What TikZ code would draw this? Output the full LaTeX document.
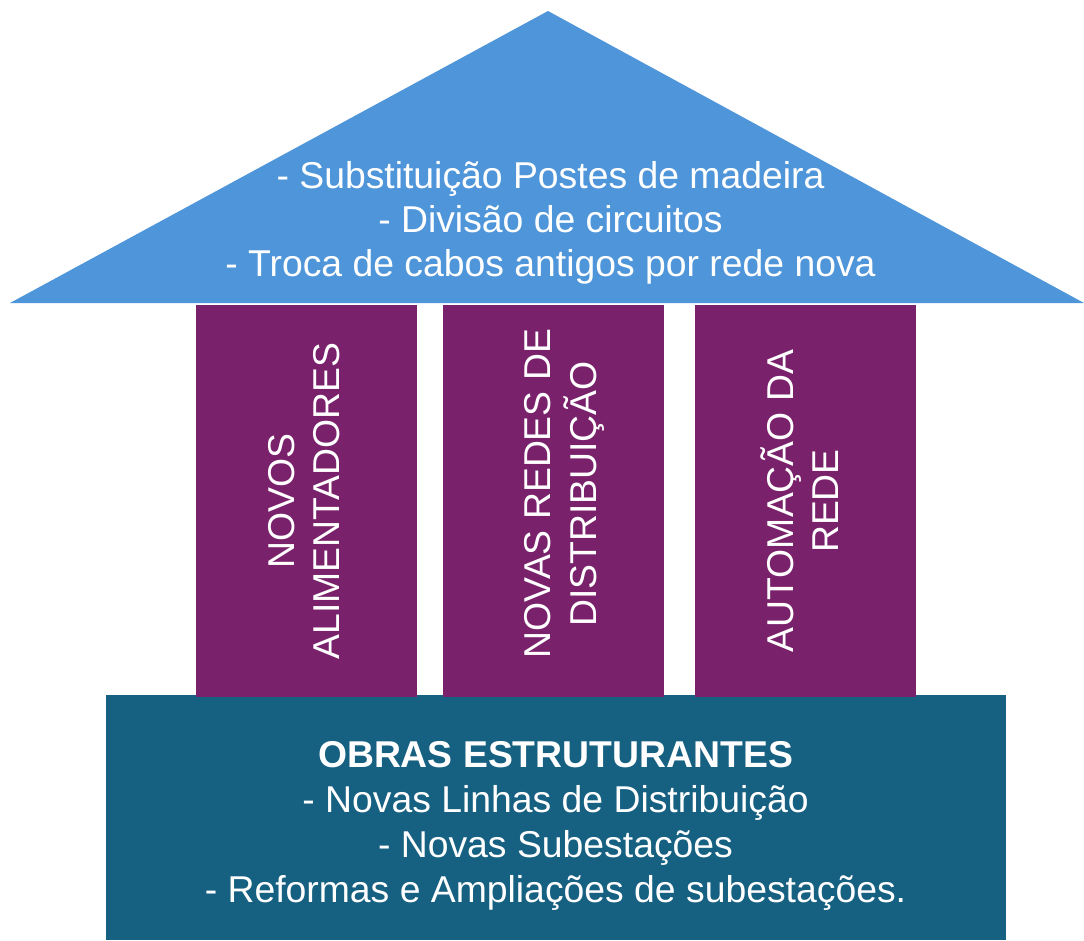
\documentclass[tikz,border=0pt]{standalone}
\usepackage{fontspec}
\setmainfont{Liberation Sans}
\definecolor{roofblue}{RGB}{79,149,217}
\definecolor{pillarpurple}{RGB}{122,33,108}
\definecolor{baseteal}{RGB}{22,96,129}
\begin{document}
\begin{tikzpicture}[x=0.75pt,y=-0.75pt,
  txt/.style={text=white,font=\fontsize{28}{33}\selectfont,inner sep=0pt,anchor=base},
  vtxt/.style={txt,rotate=90},
  btxt/.style={txt,font=\fontsize{28}{33}\selectfont\bfseries}]
\useasboundingbox (0,0) rectangle (1084,940);
% roof
\fill[roofblue] (548,11) -- (1084,303) -- (10,303) -- cycle;
% base
\fill[baseteal] (106,695) rectangle (1006,940);
% pillars
\fill[pillarpurple] (196,305) rectangle (417,696.5);
\fill[pillarpurple] (443,305) rectangle (664,696.5);
\fill[pillarpurple] (695,305) rectangle (916,696.5);
% roof text
\node[txt] (r1) at (550.5,188) {- Substituição Postes de madeira};
\node[txt] (r2) at (550.5,232) {- Divisão de circuitos};
\node[txt] (r3) at (550.5,276.5) {- Troca de cabos antigos por rede nova};
% pillar text
\node[vtxt] (p1a) at (294,501) {NOVOS};
\node[vtxt] (p1b) at (339,501) {ALIMENTADORES};
\node[vtxt] (p2a) at (550,493.5) {NOVAS REDES DE};
\node[vtxt] (p2b) at (596,494) {DISTRIBUIÇÃO};
\node[vtxt] (p3a) at (793,501) {AUTOMAÇÃO DA};
\node[vtxt] (p3b) at (838,501) {REDE};
% base text
\node[btxt] (b1) at (555.5,767.5) {OBRAS ESTRUTURANTES};
\node[txt] (b2) at (555.5,812.5) {- Novas Linhas de Distribuição};
\node[txt] (b3) at (555.5,857.5) {- Novas Subestações};
\node[txt] (b4) at (555.5,902.5) {- Reformas e Ampliações de subestações.};
\end{tikzpicture}
\end{document}
